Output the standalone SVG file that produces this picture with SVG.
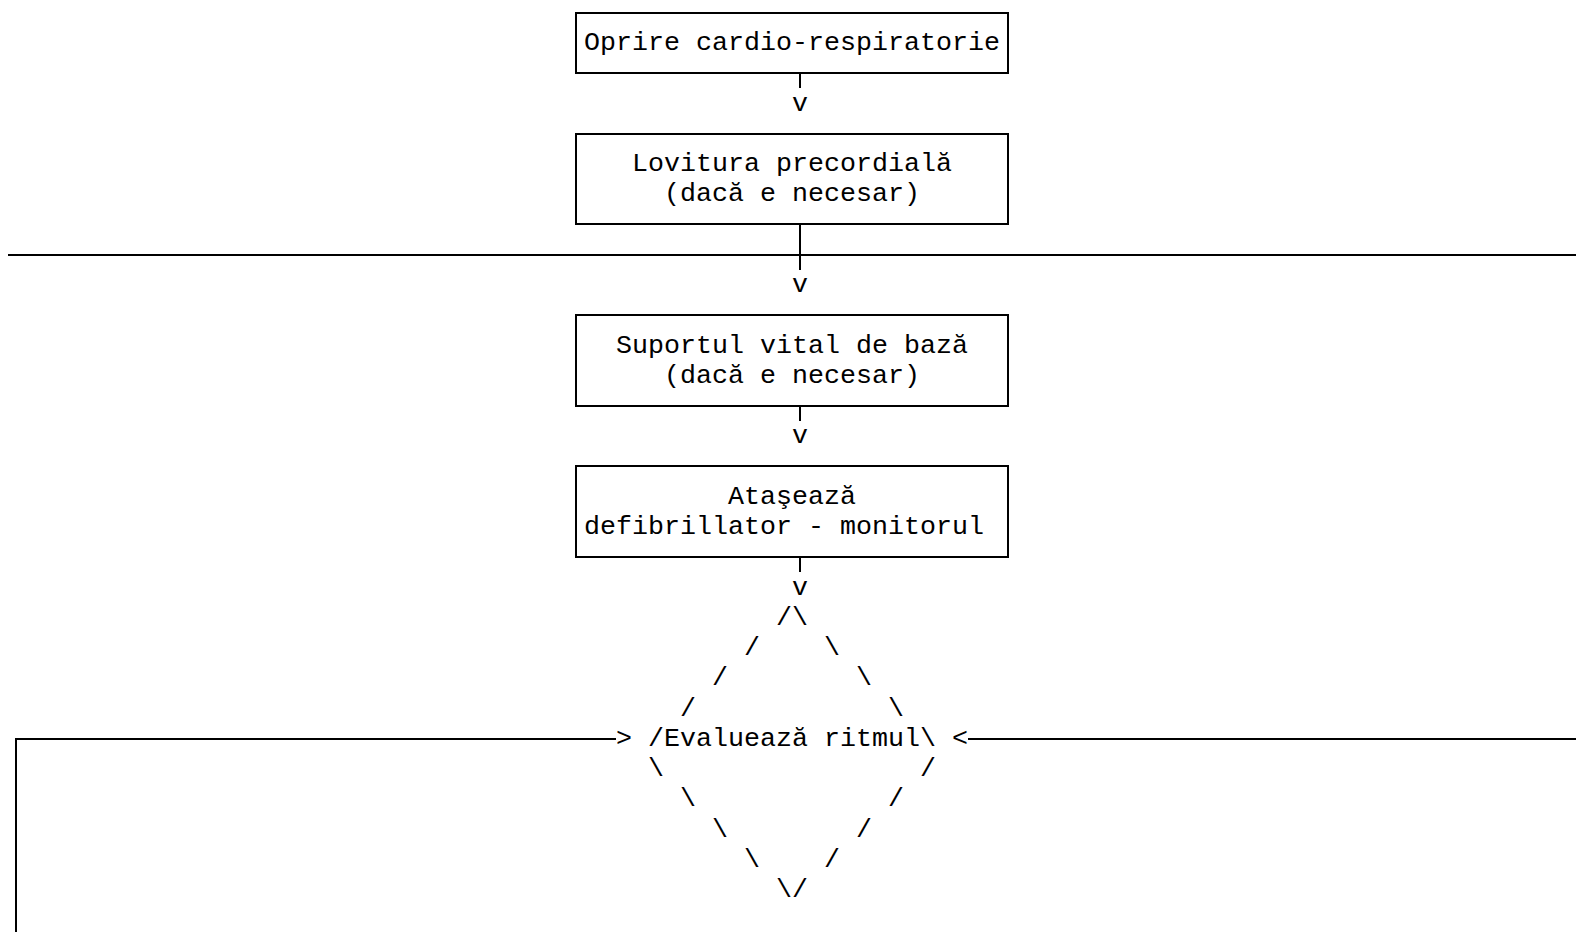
<svg xmlns="http://www.w3.org/2000/svg" width="1576" height="932" viewBox="0 0 1576 932">
<style>
  .t { font-family: "Liberation Mono", "Courier New", monospace; font-size: 26.667px; fill: #000; white-space: pre; }
  .box { fill: none; stroke: #000; stroke-width: 2; }
  .ln { fill: none; stroke: #000; stroke-width: 2; }
</style>
<rect width="1576" height="932" fill="#fff"/>
<g id="connectors">
  <path class="ln" d="M800,73 V88"/>
  <text class="t" x="792" y="110.55">v</text>
  <path class="ln" d="M800,224 V270"/>
  <path class="ln" d="M8,255 H1576"/>
  <text class="t" x="792" y="292.05">v</text>
  <path class="ln" d="M800,406 V421"/>
  <text class="t" x="792" y="443.3">v</text>
  <path class="ln" d="M800,557 V572"/>
  <text class="t" x="792" y="594.55">v</text>
  <path class="ln" d="M16,932 V739 H616"/>
  <text class="t" x="616" y="745.8">&gt;</text>
  <path class="ln" d="M968,739 H1576"/>
  <text class="t" x="952" y="745.8">&lt;</text>
</g>
<g id="n1">
  <rect class="box" x="576" y="13" width="432" height="60"/>
  <text class="t" x="584" y="50.05">Oprire cardio-respiratorie</text>
</g>
<g id="n2">
  <rect class="box" x="576" y="134" width="432" height="90"/>
  <text class="t" x="632" y="171.05">Lovitura precordială</text>
  <text class="t" x="664" y="201.3">(dacă e necesar)</text>
</g>
<g id="n3">
  <rect class="box" x="576" y="315" width="432" height="91"/>
  <text class="t" x="616" y="352.55">Suportul vital de bază</text>
  <text class="t" x="664" y="382.8">(dacă e necesar)</text>
</g>
<g id="n4">
  <rect class="box" x="576" y="466" width="432" height="91"/>
  <text class="t" x="728" y="503.8">Ataşează</text>
  <text class="t" x="584" y="534.05">defibrillator - monitorul</text>
</g>
<g id="decision">
  <text class="t" x="776" y="624.8">/\</text>
  <text class="t" x="744" y="655.05">/</text>
  <text class="t" x="824" y="655.05">\</text>
  <text class="t" x="712" y="685.3">/</text>
  <text class="t" x="856" y="685.3">\</text>
  <text class="t" x="680" y="715.55">/</text>
  <text class="t" x="888" y="715.55">\</text>
  <text class="t" x="648" y="745.8">/Evaluează ritmul\</text>
  <text class="t" x="648" y="776.05">\</text>
  <text class="t" x="920" y="776.05">/</text>
  <text class="t" x="680" y="806.3">\</text>
  <text class="t" x="888" y="806.3">/</text>
  <text class="t" x="712" y="836.55">\</text>
  <text class="t" x="856" y="836.55">/</text>
  <text class="t" x="744" y="866.8">\</text>
  <text class="t" x="824" y="866.8">/</text>
  <text class="t" x="776" y="897.05">\/</text>
</g>
</svg>
